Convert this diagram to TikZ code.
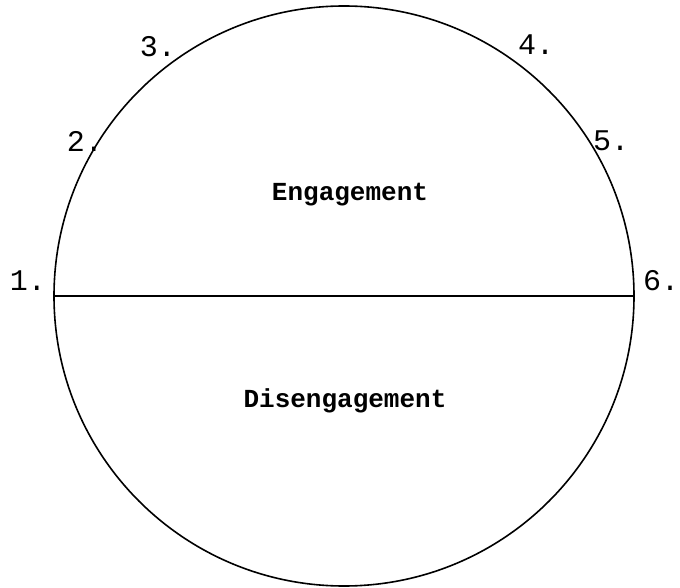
\documentclass[tikz,border=0pt]{standalone}
\usepackage{fontspec}
\setmonofont{Liberation Mono}
\begin{document}
\begin{tikzpicture}[x=1pt,y=1pt,
  numlab/.style={inner sep=0pt, font=\ttfamily\fontsize{30}{30}\selectfont},
  wordlab/.style={inner sep=0pt, anchor=base, font=\ttfamily\bfseries\fontsize{26}{26}\selectfont},
  ring/.style={circle, draw, line width=1.6pt, minimum size=580pt, inner sep=0pt}]
\useasboundingbox (0,0) rectangle (680,587);
\node[ring] (c) at (344,291) {};
\draw[line width=1.6pt] (c.west) -- (c.east);
\node[wordlab] (eng) at (350,386) {Engagement};
\node[wordlab] (dis) at (345,180) {Disengagement};
\node[numlab] (n1) at (28,306) {1.};
\node[numlab] (n2) at (85,446) {2.};
\node[numlab] (n3) at (158,540) {3.};
\node[numlab] (n4) at (536,542) {4.};
\node[numlab] (n5) at (611,446) {5.};
\node[numlab] (n6) at (661,306) {6.};
\end{tikzpicture}
\end{document}
